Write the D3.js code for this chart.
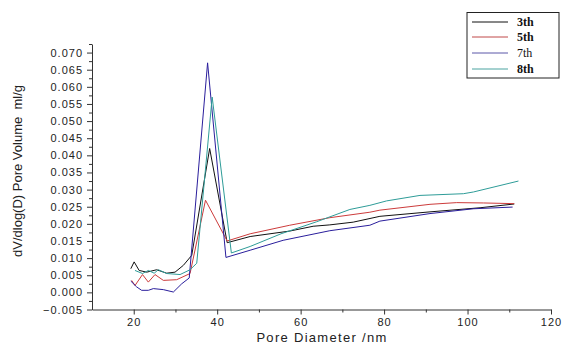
<!DOCTYPE html>
<html>
<head>
<meta charset="utf-8">
<script src="https://cdn.jsdelivr.net/npm/d3@7/dist/d3.min.js"></script>
<style>
  html, body { margin: 0; padding: 0; background: #fff; }
  svg { display: block; }
</style>
</head>
<body>
<svg id="chart"></svg>
<script>
// series data (pore diameter nm, dV/dlog(D) ml/g)
const seriesNames = ['3th', '5th', '7th', '8th'];

const x3 = [19.3, 20.1, 21.3, 23.1, 25.5, 27.9, 29.9, 31.9, 33.9, 38.2, 42.4, 47.9, 57.4, 63, 67, 72.6, 79, 91, 103, 111.2];
const y3 = [0.0069, 0.0089, 0.0064, 0.0059, 0.0066, 0.0056, 0.0059, 0.0079, 0.0108, 0.042, 0.0145, 0.0163, 0.0179, 0.0193, 0.0197, 0.0205, 0.0222, 0.0235, 0.0247, 0.0258];

const x5 = [19.5, 20.3, 22.1, 23.5, 25.1, 27.1, 30.3, 33.5, 37.2, 42.4, 47.9, 57.4, 67, 76.6, 79, 91, 97.4, 103.8, 111.2];
const y5 = [0.0035, 0.002, 0.0052, 0.003, 0.0052, 0.0035, 0.0037, 0.0055, 0.0269, 0.015, 0.0171, 0.0196, 0.0218, 0.0234, 0.024, 0.0257, 0.0262, 0.0261, 0.0259];

const x7 = [19.3, 20.7, 21.9, 23.5, 24.7, 27.1, 29.5, 31.5, 33.3, 37.7, 42.1, 47.9, 55.8, 67, 76.6, 79, 91, 101.4, 110.8];
const y7 = [0.0033, 0.0016, 0.0006, 0.0006, 0.0011, 0.0008, 0.0001, 0.0025, 0.0042, 0.067, 0.0102, 0.0123, 0.0152, 0.018, 0.0196, 0.0208, 0.023, 0.0244, 0.0249];

const x8 = [20.3, 22.1, 23.5, 24.9, 25.9, 27.9, 31.1, 33.5, 35.1, 38.8, 43.4, 47.9, 55.3, 63.8, 71.8, 76.6, 80.6, 88.6, 99, 101.4, 112.2];
const y8 = [0.0064, 0.0055, 0.0064, 0.0056, 0.0066, 0.0055, 0.0052, 0.0066, 0.0085, 0.057, 0.0115, 0.0134, 0.0171, 0.0206, 0.0242, 0.0254, 0.0267, 0.0283, 0.0288, 0.0293, 0.0325];

const xTicks = [20, 40, 60, 80, 100, 120];
const xMinor = [30, 50, 70, 90, 110];
const yTicks = [-0.005, 0, 0.005, 0.01, 0.015, 0.02, 0.025, 0.03, 0.035, 0.04, 0.045, 0.05, 0.055, 0.06, 0.065, 0.07];
const yMinor = [-0.0025, 0.0025, 0.0075, 0.0125, 0.0175, 0.0225, 0.0275, 0.0325, 0.0375, 0.0425, 0.0475, 0.0525, 0.0575, 0.0625, 0.0675, 0.0725];

const colors = ['#111111', '#cc3b3b', '#2a1e9c', '#2e9c98'];
const legendColors = ['#111111', '#c04848', '#5a56a8', '#4aa3a0'];

const series = [[x3, y3], [x5, y5], [x7, y7], [x8, y8]].map(([xs, ys], i) => ({
  name: seriesNames[i],
  color: colors[i],
  values: xs.map((x, j) => ({ x: x, y: ys[j] }))
}));

const width = 563, height = 345;
const svg = d3.select('#chart').attr('width', width).attr('height', height);

const xScale = d3.scaleLinear().domain([10, 120]).range([92, 551]);
const yScale = d3.scaleLinear().domain([-0.005, 0.0725]).range([309.5, 44]);

const axisFont = '"Liberation Sans", Arial, sans-serif';

// x axis
const gx = svg.append('g').attr('transform', `translate(0,${yScale(-0.005)})`);
gx.call(d3.axisBottom(xScale).tickValues(xTicks).tickSize(5).tickSizeOuter(0).tickPadding(4)
  .tickFormat(d3.format('d')));
gx.append('g').call(d3.axisBottom(xScale).tickValues(xMinor).tickSize(3).tickFormat(''))
  .select('.domain').remove();

// y axis
const gy = svg.append('g').attr('transform', `translate(${xScale(10)},0)`);
gy.call(d3.axisLeft(yScale).tickValues(yTicks).tickSize(5).tickSizeOuter(0).tickPadding(4)
  .tickFormat(d3.format('.3f')));
gy.append('g').call(d3.axisLeft(yScale).tickValues(yMinor).tickSize(3).tickFormat(''))
  .select('.domain').remove();

svg.selectAll('.domain, .tick line').attr('stroke', '#333').attr('stroke-width', 1);
svg.selectAll('.tick text')
  .attr('fill', '#222')
  .style('font-family', axisFont)
  .style('font-size', '11px')
  .style('letter-spacing', '1px');

// lines
const line = d3.line().x(d => xScale(d.x)).y(d => yScale(d.y));
svg.append('g').selectAll('path')
  .data(series)
  .join('path')
  .attr('d', d => line(d.values))
  .attr('fill', 'none')
  .attr('stroke', d => d.color)
  .attr('stroke-width', 1);

// axis titles
svg.append('text')
  .attr('x', 322)
  .attr('y', 342)
  .attr('text-anchor', 'middle')
  .style('font-family', axisFont)
  .style('font-size', '13px')
  .style('letter-spacing', '1.3px')
  .attr('fill', '#222')
  .text('Pore Diameter /nm');

svg.append('text')
  .attr('transform', 'translate(22,171) rotate(-90)')
  .attr('text-anchor', 'middle')
  .style('font-family', axisFont)
  .style('font-size', '13px')
  .attr('fill', '#222')
  .attr('xml:space', 'preserve')
  .text('dV/dlog(D) Pore Volume  ml/g');

// legend
const legend = svg.append('g');
legend.append('rect')
  .attr('x', 467).attr('y', 12.5)
  .attr('width', 92).attr('height', 65.5)
  .attr('fill', '#fff')
  .attr('stroke', '#222')
  .attr('stroke-width', 1);

const legendY = [22, 37, 53, 69];
const items = legend.selectAll('g.item')
  .data(series)
  .join('g')
  .attr('class', 'item')
  .attr('transform', (d, i) => `translate(0,${legendY[i]})`);

items.append('line')
  .attr('x1', 472).attr('x2', 508)
  .attr('y1', 0).attr('y2', 0)
  .attr('stroke', (d, i) => legendColors[i])
  .attr('stroke-width', 1);

items.append('text')
  .attr('x', 517)
  .attr('y', 4)
  .style('font-family', '"Liberation Serif", "Times New Roman", serif')
  .style('font-size', '12px')
  .style('font-weight', d => d.name === '7th' ? 'normal' : 'bold')
  .attr('fill', '#111')
  .text(d => d.name);
</script>
</body>
</html>
